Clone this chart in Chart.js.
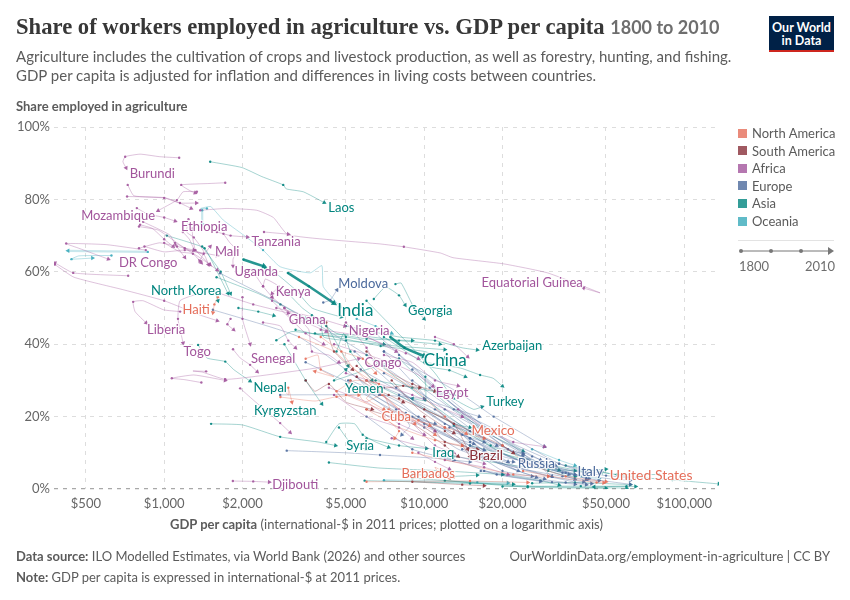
<!DOCTYPE html>
<html><head><meta charset="utf-8">
<script src="https://cdn.jsdelivr.net/npm/chart.js@4"></script>
<style>
html,body{margin:0;padding:0;background:#fff;width:850px;height:600px;overflow:hidden;font-family:Lato,sans-serif}
#wrap{position:relative;width:850px;height:600px}
canvas{position:absolute;left:0;top:0}
.t{position:absolute;white-space:nowrap;color:#5b5b5b}
.sq{position:absolute;left:738px;width:9px;height:9px;opacity:.8}
</style></head><body><div id="wrap">
<canvas id="c" width="850" height="600"></canvas>
<div class="t" style="left:16px;top:14px;font:bold 22.65px 'Liberation Serif',serif;color:#373737">Share of workers employed in agriculture vs. GDP per capita <span style="font:bold 18px Lato;color:#6e6e6e;margin-left:0">1800 to 2010</span></div>
<div class="t" style="left:16px;top:47px;font-size:15px;line-height:19px">Agriculture includes the cultivation of crops and livestock production, as well as forestry, hunting, and fishing.<br>GDP per capita is adjusted for inflation and differences in living costs between countries.</div>
<div class="t" style="left:16px;top:98px;font:bold 13px Lato">Share employed in agriculture</div>
<div style="position:absolute;left:769px;top:16px;width:65px;height:36px;background:#002147;border-bottom:2.5px solid #ce261e;box-sizing:border-box;color:#fff;font:bold 12.5px/13px Lato;text-align:center;padding-top:5px">Our World<br>in Data</div>
<div id="lg"></div>
<div style="position:absolute;left:738px;top:240px;width:96px;height:1px;background:#e3e3e3"></div>
<svg style="position:absolute;left:735px;top:245px" width="105" height="12"><line x1="6" y1="6" x2="95" y2="6" stroke="#777" stroke-width="1"/><circle cx="6" cy="6" r="2" fill="#777"/><circle cx="36" cy="6" r="2" fill="#777"/><circle cx="66" cy="6" r="2" fill="#777"/><path d="M93 2 L99 6 L93 10 Z" fill="#777"/></svg>
<div class="t" style="left:739px;top:258px;font-size:13px;color:#6e6e6e">1800</div>
<div class="t" style="left:805px;top:258px;font-size:13px;color:#6e6e6e">2010</div>
<div class="t" style="left:170px;top:516px;font-size:13px"><b>GDP per capita</b> (international-$ in 2011 prices; plotted on a logarithmic axis)</div>
<div class="t" style="left:16px;top:548px;font-size:13px"><b>Data source:</b> ILO Modelled Estimates, via World Bank (2026) and other sources</div>
<div class="t" style="right:20px;top:548px;font-size:13px">OurWorldinData.org/employment-in-agriculture | CC BY</div>
<div class="t" style="left:16px;top:569px;font-size:13px"><b>Note:</b> GDP per capita is expressed in international-$ at 2011 prices.</div>
</div>
<script>
// Tick labels and legend
const xTickValues = [500,1000,2000,5000,10000,20000,50000,100000];
const yTickStep = 20;
const continentNames = ["North America","South America","Africa","Europe","Asia","Oceania"];
const continentColors = ["#E56E5A","#883039","#A2559C","#4C6A9C","#00847E","#38AABA"];

// Trajectories: [GDP per capita, share employed in agriculture %]
// Africa
const Burundi=[[1142,91.5],[960,91.8],[808,92.5],[708,91.8],[694,90.4],[714,88.7]];
const Rwanda=[[1717,84.6],[1500,84.4],[1163,84],[1250,82.5],[1316,81.8]];
const Niger=[[724,84],[765,81],[1000,80.4],[1150,79],[1330,79]];
const Madagascar=[[720,80.8],[1000,80.5],[1150,79],[1270,77.5]];
const Malawi=[[1336,82.1],[1183,82.1],[1119,79.8],[948,76.9]];
const Mozambique=[[785,77.6],[860,76],[1000,75],[1103,74]];
const Ethiopia=[[808,73],[900,72],[1000,69],[1083,67]];
const Tanzania=[[1595,71],[1800,70],[2090,69.6]];
const Cameroon=[[2420,71],[3000,70.4]];
const EquatorialGuinea=[[1376,77],[1743,77.5],[2270,77],[2630,75],[3000,70.2],[6760,67.7],[8350,66.9],[11530,65.2],[12900,63.9],[20180,62.2],[29800,59.7],[47400,54.2],[41000,55.5]];
const Mali=[[1100,68],[1250,66],[1420,65],[1503,67]];
const BurkinaFaso=[[1180,71],[1250,69],[1310,66],[1430,64.5],[1480,62]];
const Guinea=[[1000,68],[1150,65.5],[1290,65],[1390,62.5]];
const SierraLeone=[[840,67],[1000,65.5],[1200,66],[1600,64.5]];
const Uganda=[[1690,70.5],[1790,68],[1900,66],[1840,63.5],[1840,61.6]];
const DRCongo=[[850,66],[600,67.5],[420,67.8],[470,66.5],[610,63.5]];
const CentralAfricanRepublic=[[727,58.9],[447,59.7],[380,62.5]];
const Gambia=[[380,62],[450,58.5],[700,55],[1000,52],[1380,48],[1600,46.5]];
const Liberia=[[1152,49],[995,49.5],[830,52],[760,51.7],[773,49],[852,45.9]];
const Togo=[[1350,54],[1150,52],[1130,47],[1183,40.3]];
const Senegal=[[1840,38.6],[1960,36.2],[2140,34.3],[2280,32.4]];
const Chad=[[2000,53],[2000,47],[2141,40]];
const Lesotho=[[1390,29.4],[1200,30.2],[1070,30.6],[1300,31.5],[1717,30]];
const Mauritania=[[1450,32.5],[1290,32.6],[1400,32.3],[1717,30.3],[2300,31.2],[3900,33.5],[5600,36]];
const Namibia=[[1960,27.8],[2200,24.6],[2793,18.2],[3051,15.6]];
const Djibouti=[[1837,2.2],[2200,2.1],[2535,1.9]];
const Kenya=[[2400,56],[2450,58],[2750,56],[2600,54]];
const Nigeria=[[2700,50],[3500,48],[4000,47],[4950,45]];
const Ghana=[[2900,50],[3300,47],[4200,43.5]];
const Congo=[[5500,43],[7000,40],[8500,37.5],[9500,36]];
const Egypt=[[4500,40],[6700,36],[8000,34],[9500,31.5],[10800,28.4]];
const Gabon=[[11000,42],[13000,40],[14700,36.5]];
const Libya=[[13500,22],[17000,17],[22000,13],[29000,11.7]];
const Benin=[[2400,46],[2800,45],[3000,41],[3200,39]];
const IvoryCoast=[[2600,53],[2900,50],[3100,46]];
const Algeria=[[8000,22],[11000,12],[13000,10]];
const Morocco=[[4000,44],[6000,42],[7800,38]];
const Tunisia=[[6000,30],[8500,20],[11000,16]];
const SouthAfrica=[[9500,10],[11000,7.5],[12500,5.5]];
const Botswana=[[5000,32],[9000,26],[14000,20]];
const Mauritius=[[7500,14],[12000,10],[17000,7]];
const Sudan=[[2600,52],[3500,43],[4100,40]];
const Zambia=[[2200,60],[2400,56],[2600,53]];
const Somalia=[[830,73.8],[1050,70.2],[1105,67.5],[1200,64]];
const Angola=[[800,72.5],[950,71.5],[1200,66.5],[1400,63.5],[1600,60.5]];
const Eritrea=[[800,66.5],[960,68],[1120,67],[1300,66]];
const GuineaBissau=[[1280,72],[1290,69],[1320,66],[1500,62]];
const Comoros=[[1240,74.5],[1220,71],[1300,69.5],[1420,65.5],[1370,63]];
const SaoTome=[[1640,54],[2200,51],[3000,48.6]];
const Gambia2=[[1800,47],[1750,45.5],[1850,44]];
const Cameroon2=[[3300,47],[3600,44],[3700,38],[4300,37],[4700,35]];
const Eswatini=[[4500,26],[6000,20],[8000,17],[9000,14]];
const CapeVerde=[[4300,28],[6000,24],[8000,18],[10000,15]];
const Gabon2=[[7000,37],[9000,35],[11000,30],[13500,28.5]];
const Seychelles=[[12000,8],[17000,6],[21000,4]];
const Angola2=[[5000,46],[6000,39],[6500,34]];
// Asia
const Laos=[[1503,90.4],[1990,88.8],[2375,86.3],[2870,84],[2947,82.9],[3428,82.1],[4127,79.1]];
const India=[[2990,59.7],[3600,56],[4500,51.3]];
const China=[[7400,42],[8400,39],[10000,36.7]];
const Indonesia=[[2015,63.4],[2420,61.5]];
const Bangladesh=[[2450,61],[2750,59],[3200,55],[3700,50],[4800,47.5]];
const Afghanistan=[[1024,70],[1200,68.5],[1430,66.5],[1600,60],[1760,54]];
const NorthKorea=[[1560,55],[1610,52]];
const Bhutan=[[1400,67],[1650,60],[1800,54]];
const Cambodia=[[1590,58.5],[2300,54],[2800,51],[3500,47]];
const Nepal=[[1350,39.8],[1460,36.2],[1717,35.2],[1850,33],[2141,29.8]];
const Georgia=[[6400,52.5],[7100,55.8],[8000,53.5],[8450,50.8]];
const Armenia=[[7750,56.6],[8150,56.9],[9150,50],[10000,47]];
const Azerbaijan=[[5000,45],[8000,42],[11000,41],[14000,39],[16000,38.4]];
const Thailand=[[7000,42],[10500,33.8],[12500,32.8],[14400,31]];
const Kazakhstan=[[10000,35],[13800,33.4],[16400,31.5],[18400,30.6],[20000,28.4]];
const Turkey=[[6000,52],[9000,39],[11000,32],[13000,25],[15500,22],[16700,22.7]];
const Yemen=[[8000,36],[6000,33],[4500,30],[5000,33]];
const Kyrgyzstan=[[2900,40],[3500,30],[4040,23.5]];
const Uzbekistan=[[1515,18],[2000,17.7],[2793,14.4],[3900,13],[4560,12]];
const Syria=[[4200,13],[4700,18],[5400,18],[5800,15],[6500,13],[7300,11.5]];
const Iraq=[[6000,14],[8000,12],[10200,11.2]];
const Iran=[[6000,30],[9000,24],[13000,18],[15000,17]];
const Philippines=[[1930,50],[2300,49],[2640,47.9]];
const Vietnam=[[2700,41.1],[3100,43.5],[4500,42],[6800,39.5],[10000,38],[12000,36]];
const Pakistan=[[3200,44],[4000,42.5],[5000,42],[7000,40]];
const SriLanka=[[4600,38],[4900,43],[5200,38],[6300,30]];
const Jordan=[[10100,31],[10100,24.5],[9000,25]];
const SouthKorea=[[6000,37],[10000,25],[18000,12],[30000,6.5],[33000,5.2]];
const Japan=[[13000,17.5],[20000,10],[30000,5],[36000,3.5],[38000,3.4]];
const Malaysia=[[8000,36],[12000,24],[18000,15],[24000,10.5]];
const SaudiArabia=[[15000,12],[25000,8],[40000,5],[50000,5.5]];
const Israel=[[20000,4],[28000,2.3],[33000,1.1]];
const Qatar=[[35000,6.5],[60000,3.5],[90000,2.5],[136000,1.4]];
const Kuwait=[[20000,.7],[40000,.8],[65000,.7]];
const Bahrain=[[26000,1.6],[38000,1.8],[62000,1.2]];
const Oman=[[13000,9],[25000,6],[38000,5]];
const Lebanon=[[9000,4],[13000,3.5],[16000,3.8]];
const Armenia2=[[4300,7.3],[6700,5.8],[12000,5],[20000,4]];
const Maldives=[[5900,2.3],[9000,2],[15000,1.5],[22000,1.3]];
const HongKong=[[12000,2.3],[25000,.5],[50000,.2]];
const Myanmar=[[3800,43],[5500,42.5],[8000,41],[11500,40]];
const Mongolia=[[4000,47],[4100,42],[5000,41],[7800,39.5],[12000,38.5]];
const Tajikistan=[[3700,48],[4600,43],[6000,41.5],[9000,41]];
const TimorLeste=[[3000,54],[3400,50],[4200,45],[4800,38],[5100,34]];
const Turkmenistan=[[6500,30],[9000,28],[13000,26]];
const Palestine=[[4700,17],[5300,12],[6000,11]];
const UnitedArabEmirates=[[80000,4],[55000,4],[48000,4.6]];
const Brunei=[[60000,.8],[45000,.6]];
const Singapore=[[9000,3],[25000,.8],[60000,.25]];
// Europe
const Moldova=[[4090,51.5],[4350,52.2],[4620,55]];
const Russia=[[7000,38],[10000,26],[15000,13],[20000,8],[22000,7.5]];
const Bosnia2=[[2960,10.6],[5000,10],[6760,9.4],[11000,8.5],[15000,7.5]];
const Serbia=[[2793,26],[6700,26],[10000,25]];
const Bosnia=[[1540,49.5],[3300,42],[6800,26],[11000,17.5],[17000,13]];
const Albania=[[1640,59.6],[2630,52.2],[4200,44],[7000,34],[11000,24],[16300,20]];
const Romania=[[5400,38],[7000,31],[9000,24],[12000,18],[15500,15.5],[19000,12]];
const Bulgaria=[[5100,30],[7300,22],[10000,17],[13500,11],[17000,8.5]];
const Poland=[[5700,33],[8000,27],[11000,21],[15000,16],[19000,11.5],[24000,9.8]];
const Greece=[[7000,38],[10000,32],[14000,26],[18500,20],[23000,16],[29000,11.7]];
const Portugal=[[6500,43],[9000,34],[13000,24],[18000,16],[23500,11],[28000,8]];
const Spain=[[8000,37],[11000,28],[15000,19],[21000,11],[30000,5.5],[36000,4]];
const Italy=[[9000,33],[13000,23],[19000,14],[28000,7],[38000,4.2],[42000,2.6]];
const Ireland=[[10500,28],[15000,20],[22000,12.5],[33000,7],[45000,4.5],[48000,4.8]];
const Finland=[[9000,30],[14000,20],[22000,10],[30000,6],[38000,4]];
const Austria=[[11000,22],[16000,15],[24000,9],[34000,5.5],[42000,4.5]];
const France=[[12500,17],[18000,11],[26000,6.5],[35000,3.5],[38000,2.7]];
const Germany=[[14000,11],[20000,7],[30000,3.5],[40000,1.6],[44000,1.5]];
const Netherlands=[[16000,9],[24000,5.5],[34000,3.5],[44000,2.2],[47000,2.3]];
const UnitedKingdom=[[16500,5],[22000,3.3],[31000,1.9],[38000,1.3]];
const Sweden=[[15000,12],[22000,6.5],[31000,3.4],[41000,2]];
const Norway=[[13000,18],[21000,9],[35000,4.5],[52000,2.8],[62000,2.4]];
const Denmark=[[15000,14],[23000,8],[34000,4.5],[43000,2.9]];
const Belgium=[[17000,5],[26000,3],[35000,1.8],[42000,1.2]];
const Switzerland=[[25000,8],[37000,5],[50000,3.7],[60000,3.2]];
const Hungary=[[8000,26],[11000,20],[14000,15],[19000,8],[23000,5]];
const Czechia=[[9500,20],[13000,15],[18000,8],[24000,4.5],[29000,2.8]];
const Belarus=[[5200,30],[8000,24],[11000,16],[15000,12],[17000,10.8]];
const Ukraine=[[5500,31],[6400,26],[7800,22],[8800,17.5],[8200,15]];
const Latvia=[[7800,28],[11500,19],[15000,14],[20000,9],[24000,7.7]];
const Estonia=[[9000,20],[13000,13.5],[18000,8],[24000,4.5],[27000,3.2]];
const Croatia=[[7000,28],[11000,22],[15000,14],[21000,7.5]];
const Slovenia=[[12000,22],[19000,14],[26000,9],[32000,6.5]];
const Cyprus=[[14000,20],[20000,14],[28000,6],[31000,3.5]];
const Iceland=[[13000,22],[22000,14],[33000,7],[42000,4.5]];
const Luxembourg=[[28000,7],[42000,3],[62000,1.3]];
const Malta=[[12000,9],[19000,4],[28000,2.1]];
const Slovakia=[[8500,21],[13000,14],[20000,5],[26000,3.5]];
const NorthMacedonia=[[5000,29],[8000,21],[11000,18]];
const Montenegro=[[6000,20],[9000,11],[13000,8]];
const Lithuania=[[7000,32],[11000,24],[17000,14],[24000,9.5]];
const Kosovo=[[3500,35],[6000,27],[10000,18],[13000,14],[15500,12.5]];
// North America
const Haiti=[[1610,53],[1560,51],[1540,48.7]];
const Mexico=[[6000,35],[9000,28],[12000,20],[14500,15.3]];
const UnitedStates=[[20000,12],[25000,7],[35000,3.5],[50000,2]];
const Cuba=[[7300,22],[9500,19],[10500,17.5]];
const Barbados=[[11500,4],[11000,6],[13000,3.2],[12500,3]];
const DominicanRepublic=[[3300,42],[4500,38],[6000,30],[8000,22],[11000,15]];
const Guatemala=[[4000,42],[4800,38],[5800,36],[6500,32]];
const Honduras=[[2800,25.4],[3800,24.3],[4600,25.5],[5600,26]];
const Nicaragua=[[2800,28.5],[3000,26],[3000,28],[3100,24]];
const ElSalvador=[[4800,38],[5400,33],[6800,28],[7500,21]];
const CostaRica=[[6000,22],[8000,17],[11000,13.5],[14000,12]];
const Panama=[[5000,26],[8000,20],[12000,17],[17000,14]];
const Jamaica=[[7000,20],[7800,17],[8000,16],[7700,14]];
const Canada=[[24000,5],[34000,3],[46000,1.8],[49000,1.7]];
const Trinidad=[[9000,10],[14000,7],[22000,4],[30000,3.5]];
const Belize=[[3500,36],[3900,37],[4000,33],[4500,31],[3800,32.5]];
const SaintLucia=[[4600,27],[5400,30],[6700,29],[6000,25],[7000,22]];
const Grenada=[[5200,30],[5900,24],[6900,26],[8300,21],[9200,18]];
const Bahamas=[[6000,2],[15000,2.2],[25000,1.8]];
// South America
const Brazil=[[8000,25],[10000,22],[13000,18],[14700,11]];
const Chile=[[10000,22],[14000,17],[20000,12],[22000,10]];
const Colombia=[[7500,30],[9500,22],[12000,17],[13000,15.5]];
const Peru=[[6000,38],[7500,32],[9000,29],[11000,27]];
const Bolivia=[[4200,46],[4300,42],[4500,38],[5300,33]];
const Paraguay=[[5500,31],[6300,28],[7300,26],[8300,24]];
const Ecuador=[[5500,34],[7000,28],[8300,28.5],[9600,28]];
const Venezuela=[[12000,16],[14000,12],[15000,9]];
const Uruguay=[[10000,20],[12000,13],[16000,11]];
const Guyana=[[3500,30],[3800,27],[4300,29],[5000,24],[6300,22]];
const Suriname=[[6000,22],[9000,18],[12000,12],[13500,9]];
const Argentina=[[9000,2],[14000,1.2],[17000,.9]];
// Oceania
const PapuaNewGuinea=[[1460,77.5],[1380,77.5],[1510,78],[1687,74.3],[2015,70.2],[2400,66],[2793,61.4],[3642,59.7],[4040,61.7],[4090,55.9],[4750,50.4]];
const SolomonIslands=[[865,65.5],[427,65.8]];
const Kiribati=[[627,64.5],[470,64.4],[440,63.5],[530,63.8]];
const Fiji=[[5500,47],[6500,45],[7500,43]];
const Australia=[[30000,5.5],[40000,3.5],[47000,2.9]];
const NewZealand=[[26000,11],[33000,8],[38000,6.5]];
const Vanuatu=[[1400,77],[1400,73]];
const Tonga=[[7000,2.4],[11000,2.1],[16000,1.9],[21000,1.7]];

const seriesByContinent = [
 [Haiti,Mexico,UnitedStates,Cuba,Barbados,DominicanRepublic,Guatemala,Honduras,Nicaragua,ElSalvador,CostaRica,Panama,Jamaica,Canada,Trinidad,Belize,SaintLucia,Grenada,Bahamas],
 [Brazil,Chile,Colombia,Peru,Bolivia,Paraguay,Ecuador,Venezuela,Uruguay,Guyana,Suriname,Argentina],
 [Burundi,Rwanda,Niger,Madagascar,Malawi,Mozambique,Ethiopia,Tanzania,Cameroon,EquatorialGuinea,Mali,BurkinaFaso,Guinea,SierraLeone,Uganda,DRCongo,CentralAfricanRepublic,Gambia,Liberia,Togo,Senegal,Chad,Lesotho,Mauritania,Namibia,Djibouti,Kenya,Nigeria,Ghana,Congo,Egypt,Gabon,Libya,Benin,IvoryCoast,Algeria,Morocco,Tunisia,SouthAfrica,Botswana,Mauritius,Sudan,Zambia,Somalia,Angola,Eritrea,GuineaBissau,Comoros,SaoTome,Gambia2,Cameroon2,Eswatini,CapeVerde,Gabon2,Seychelles,Angola2],
 [Moldova,Russia,Bosnia2,Serbia,Bosnia,Albania,Romania,Bulgaria,Poland,Greece,Portugal,Spain,Italy,Ireland,Finland,Austria,France,Germany,Netherlands,UnitedKingdom,Sweden,Norway,Denmark,Belgium,Switzerland,Hungary,Czechia,Belarus,Ukraine,Latvia,Estonia,Croatia,Slovenia,Cyprus,Iceland,Luxembourg,Malta,Slovakia,NorthMacedonia,Montenegro,Lithuania,Kosovo],
 [Laos,India,China,Indonesia,Bangladesh,Afghanistan,NorthKorea,Bhutan,Cambodia,Nepal,Georgia,Armenia,Azerbaijan,Thailand,Kazakhstan,Turkey,Yemen,Kyrgyzstan,Uzbekistan,Syria,Iraq,Iran,Philippines,Vietnam,Pakistan,SriLanka,Jordan,SouthKorea,Japan,Malaysia,SaudiArabia,Israel,Qatar,Kuwait,Bahrain,Oman,Lebanon,Armenia2,Maldives,HongKong,Myanmar,Mongolia,Tajikistan,TimorLeste,Turkmenistan,Palestine,UnitedArabEmirates,Brunei,Singapore],
 [PapuaNewGuinea,SolomonIslands,Kiribati,Fiji,Australia,NewZealand,Vanuatu,Tonga]
];
const thickSeries = [India,China,Indonesia];
const wideLightSeries = [SolomonIslands,Vanuatu,Tonga];

// Entity labels: name, continent index, GDP, share, font size
const entityLabels = [
 ["Burundi",2,900,87.1,13],["Laos",4,4800,77.7,13],["Mozambique",2,665,75.5,13],["Ethiopia",2,1425,72.5,13],
 ["Tanzania",2,2695,68.3,13],["Mali",2,1747,65.5,13],["DR Congo",2,868,62.5,13],["Uganda",2,2258,60,13],
 ["North Korea",4,1215,54.8,13],["Kenya",2,3134,54.5,13],["Moldova",3,5826,56.7,13],["India",4,5430,49.2,17],
 ["Haiti",0,1328,49.5,13],["Georgia",4,10550,49.2,13],["Equatorial Guinea",2,26000,57,13],["Ghana",2,3548,46.8,13],
 ["Nigeria",2,6140,43.7,13],["Liberia",2,1018,44,13],["Togo",2,1340,37.9,13],["Senegal",2,2626,36,13],
 ["Azerbaijan",4,21800,39.6,13],["China",4,12050,35.4,17],["Congo",2,6950,34.9,13],["Nepal",4,2557,28,13],
 ["Yemen",4,5880,27.7,13],["Egypt",2,12800,26.6,13],["Turkey",4,20500,24.1,13],["Kyrgyzstan",4,2920,21.6,13],
 ["Cuba",0,7800,20,13],["Mexico",0,18400,16.1,13.5],["Syria",4,5670,12,13],["Iraq",4,11840,10,13],
 ["Brazil",1,17300,9.2,14],["Russia",3,27000,7,13.5],["Barbados",0,10360,4.2,13],["Italy",3,43500,4.8,13.5],
 ["United States",0,74600,3.7,14],["Djibouti",2,3190,1.2,13]
];

// HTML legend
const lg=document.getElementById('lg');
continentNames.forEach((n,i)=>{
  const top=133+i*17.6;
  lg.insertAdjacentHTML('beforeend',`<div class="sq" style="top:${top-4.5}px;background:${continentColors[i]}"></div><div class="t" style="left:752px;top:${top-8}px;font-size:13px">${n}</div>`);
});

function rgba(hex,a){const n=parseInt(hex.slice(1),16);return `rgba(${n>>16},${(n>>8)&255},${n&255},${a})`;}

const datasets=[];
seriesByContinent.forEach((list,ci)=>{
  list.forEach(arr=>{
    const thick=thickSeries.includes(arr), wide=wideLightSeries.includes(arr);
    datasets.push({
      data:arr.map(p=>({x:p[0],y:p[1]})),
      showLine:true,
      borderColor:thick?rgba(continentColors[ci],.85):(wide?rgba(continentColors[ci],.28):rgba(continentColors[ci],.42)),
      backgroundColor:rgba(continentColors[ci],.9),
      borderWidth:thick?2.6:(wide?2.2:0.85),
      tension:0.15,
      pointBorderWidth:0,
      pointStyle:c=>c.dataIndex===c.dataset.data.length-1?'triangle':'circle',
      pointRadius:c=>{
        const n=c.dataset.data.length;
        if(c.dataIndex===n-1) return thick?3.6:2.6;
        return (c.dataIndex===0||c.dataIndex===Math.floor(n/2))?1.2:0;
      },
      pointRotation:c=>{
        const d=c.dataset.data,n=d.length;
        if(c.dataIndex!==n-1) return 0;
        const X=c.chart.scales.x,Y=c.chart.scales.y;
        const dx=X.getPixelForValue(d[n-1].x)-X.getPixelForValue(d[n-2].x);
        const dy=Y.getPixelForValue(d[n-1].y)-Y.getPixelForValue(d[n-2].y);
        return Math.atan2(dy,dx)*180/Math.PI+90;
      }
    });
  });
});

const labelPlugin={id:'entityLabels',afterDatasetsDraw(chart){
  const {ctx,scales:{x,y}}=chart;
  ctx.save();ctx.textAlign='center';ctx.textBaseline='middle';ctx.lineJoin='round';
  entityLabels.forEach(([t,ci,gx,gy,fs])=>{
    const px=x.getPixelForValue(gx),py=y.getPixelForValue(gy);
    ctx.font=fs+'px Lato';
    ctx.strokeStyle='rgba(255,255,255,.8)';ctx.lineWidth=2.5;ctx.strokeText(t,px,py);
    ctx.fillStyle=continentColors[ci];ctx.fillText(t,px,py);
  });
  ctx.restore();
}};

Chart.defaults.font.family='Lato';
new Chart(document.getElementById('c'),{
  type:'scatter',
  data:{datasets},
  plugins:[labelPlugin],
  options:{
    responsive:false,animation:false,
    layout:{padding:{top:127,right:131,bottom:91,left:0}},
    plugins:{legend:{display:false},tooltip:{enabled:false}},
    scales:{
      x:{type:'logarithmic',min:377,max:136000,
        afterBuildTicks:s=>{s.ticks=xTickValues.map(v=>({value:v}));},
        afterFit:s=>{s.height=20;},
        ticks:{autoSkip:false,maxRotation:0,padding:7,color:'#666',font:{size:13,family:'Lato'},
          callback:v=>'$'+Number(v).toLocaleString('en-US')},
        grid:{color:'#ddd',tickLength:0,drawTicks:false},
        border:{display:false,dash:[4,5]}
      },
      y:{min:0,max:100,
        afterFit:s=>{s.width=54;},
        ticks:{stepSize:yTickStep,padding:4,color:'#666',font:{size:13,family:'Lato'},callback:v=>v+'%'},
        grid:{color:c=>c.tick.value===0?'#a8a8a8':'#ddd',lineWidth:c=>c.tick.value===0?1.2:1,drawTicks:false,tickLength:0},
        border:{display:false,dash:[4,5]}
      }
    }
  }
});
</script></body></html>
